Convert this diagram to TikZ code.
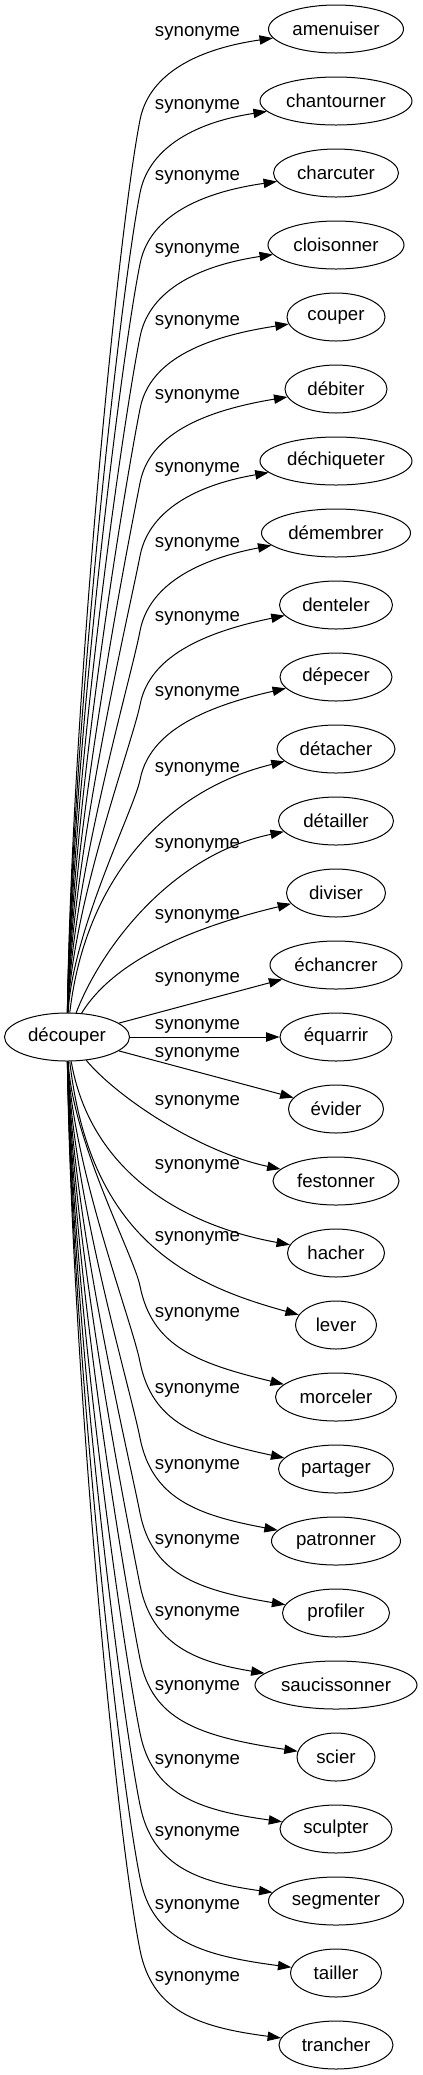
\documentclass[tikz,border=0pt]{standalone}
\usepackage{fontspec}
\setmainfont{Liberation Sans}
\usetikzlibrary{arrows.meta,shapes.geometric}

\begin{document}
\begin{tikzpicture}[x=0.75pt,y=-0.75pt,
	word/.style={draw,ellipse,inner sep=0pt,minimum height=36pt,line width=0.75pt,font=\fontsize{14}{17}\selectfont},
	rel/.style={font=\fontsize{14}{17}\selectfont},
	syn/.style={-{Triangle[length=10pt,width=7pt]},line width=0.75pt}]
	\useasboundingbox (0,0) rectangle (422,2075);
	%source
		\node[word,minimum width=93.75pt] (decouper) at (67,1037) {découper};
	%targets
		\node[word,minimum width=101.25pt] (amenuiser) at (336,29) {amenuiser};
		\node[word,minimum width=114pt] (chantourner) at (336,101) {chantourner};
		\node[word,minimum width=93.75pt] (charcuter) at (336,173) {charcuter};
		\node[word,minimum width=102pt] (cloisonner) at (336,245) {cloisonner};
		\node[word,minimum width=73.5pt] (couper) at (336,317) {couper};
		\node[word,minimum width=76.5pt] (debiter) at (336,389) {débiter};
		\node[word,minimum width=114pt] (dechiqueter) at (336,461) {déchiqueter};
		\node[word,minimum width=111.75pt] (demembrer) at (336,533) {démembrer};
		\node[word,minimum width=84.75pt] (denteler) at (336,605) {denteler};
		\node[word,minimum width=84pt] (depecer) at (336,677) {dépecer};
		\node[word,minimum width=88.5pt] (detacher) at (336,749) {détacher};
		\node[word,minimum width=86.25pt] (detailler) at (336,821) {détailler};
		\node[word,minimum width=74.25pt] (diviser) at (336,893) {diviser};
		\node[word,minimum width=99pt] (echancrer) at (336,965) {échancrer};
		\node[word,minimum width=84pt] (equarrir) at (336,1037) {équarrir};
		\node[word,minimum width=71.25pt] (evider) at (336,1109) {évider};
		\node[word,minimum width=94.5pt] (festonner) at (336,1181) {festonner};
		\node[word,minimum width=72.75pt] (hacher) at (336,1253) {hacher};
		\node[word,minimum width=60.75pt] (lever) at (336,1325) {lever};
		\node[word,minimum width=90.75pt] (morceler) at (336,1397) {morceler};
		\node[word,minimum width=86.25pt] (partager) at (336,1469) {partager};
		\node[word,minimum width=96.75pt] (patronner) at (336,1541) {patronner};
		\node[word,minimum width=80.25pt] (profiler) at (336,1613) {profiler};
		\node[word,minimum width=121.5pt] (saucissonner) at (336,1685) {saucissonner};
		\node[word,minimum width=58.5pt] (scier) at (336,1757) {scier};
		\node[word,minimum width=84pt] (sculpter) at (336,1829) {sculpter};
		\node[word,minimum width=101.25pt] (segmenter) at (336,1901) {segmenter};
		\node[word,minimum width=68.25pt] (tailler) at (336,1973) {tailler};
		\node[word,minimum width=85.5pt] (trancher) at (336,2045) {trancher};
	%edge labels
		\node[rel] (l-amenuiser) at (197.5,33) {synonyme};
		\node[rel] (l-chantourner) at (197.5,106) {synonyme};
		\node[rel] (l-charcuter) at (197.5,177) {synonyme};
		\node[rel] (l-cloisonner) at (197.5,250) {synonyme};
		\node[rel] (l-couper) at (197.5,322) {synonyme};
		\node[rel] (l-debiter) at (197.5,396) {synonyme};
		\node[rel] (l-dechiqueter) at (197.5,469) {synonyme};
		\node[rel] (l-demembrer) at (197.5,544) {synonyme};
		\node[rel] (l-denteler) at (197.5,618) {synonyme};
		\node[rel] (l-depecer) at (197.5,693) {synonyme};
		\node[rel] (l-detacher) at (197.5,769) {synonyme};
		\node[rel] (l-detailler) at (197.5,845) {synonyme};
		\node[rel] (l-diviser) at (197.5,916) {synonyme};
		\node[rel] (l-echancrer) at (197.5,979) {synonyme};
		\node[rel] (l-equarrir) at (197.5,1026) {synonyme};
		\node[rel] (l-evider) at (197.5,1054) {synonyme};
		\node[rel] (l-festonner) at (197.5,1102) {synonyme};
		\node[rel] (l-hacher) at (197.5,1166) {synonyme};
		\node[rel] (l-lever) at (197.5,1238) {synonyme};
		\node[rel] (l-morceler) at (197.5,1314) {synonyme};
		\node[rel] (l-partager) at (197.5,1390) {synonyme};
		\node[rel] (l-patronner) at (197.5,1466) {synonyme};
		\node[rel] (l-profiler) at (197.5,1541) {synonyme};
		\node[rel] (l-saucissonner) at (197.5,1613) {synonyme};
		\node[rel] (l-scier) at (197.5,1687) {synonyme};
		\node[rel] (l-sculpter) at (197.5,1761) {synonyme};
		\node[rel] (l-segmenter) at (197.5,1833) {synonyme};
		\node[rel] (l-tailler) at (197.5,1906) {synonyme};
		\node[rel] (l-trancher) at (197.5,1978) {synonyme};
	%edges going up
		\draw[syn] (decouper) .. controls (72,700) and (118,232) .. (140,120) .. controls (148,78) and (190,50) .. (amenuiser);
		\draw[syn] (decouper) .. controls (72,726) and (120,296) .. (140,193) .. controls (148,151) and (190,123) .. (chantourner);
		\draw[syn] (decouper) .. controls (72,751) and (121,358) .. (140,264) .. controls (148,222) and (190,194) .. (charcuter);
		\draw[syn] (decouper) .. controls (72,776) and (123,422) .. (140,337) .. controls (148,295) and (190,267) .. (cloisonner);
		\draw[syn] (decouper) .. controls (72,802) and (125,485) .. (140,409) .. controls (148,367) and (190,339) .. (couper);
		\draw[syn] (decouper) .. controls (72,828) and (127,549) .. (140,483) .. controls (148,441) and (190,413) .. (debiter);
		\draw[syn] (decouper) .. controls (72,853) and (129,613) .. (140,556) .. controls (148,514) and (190,486) .. (dechiqueter);
		\draw[syn] (decouper) .. controls (72,879) and (131,679) .. (140,631) .. controls (148,589) and (190,561) .. (demembrer);
		\draw[syn] (decouper) .. controls (72,905) and (132,744) .. (140,705) .. controls (148,663) and (190,635) .. (denteler);
		\draw[syn] (decouper) .. controls (72,932) and (134,809) .. (140,780) .. controls (148,738) and (190,710) .. (depecer);
		\draw[syn] (decouper) .. controls (85,880) and (165,790) .. (detacher);
		\draw[syn] (decouper) .. controls (100,950) and (170,855) .. (detailler);
		\draw[syn] (decouper) .. controls (105,975) and (160,935) .. (diviser);
	%straight edges
		\draw[syn] (decouper) -- (echancrer);
		\draw[syn] (decouper) -- (equarrir);
		\draw[syn] (decouper) -- (evider);
	%edges going down
		\draw[syn] (decouper) .. controls (115,1095) and (196,1151) .. (festonner);
		\draw[syn] (decouper) .. controls (90,1170) and (180,1225) .. (hacher);
		\draw[syn] (decouper) .. controls (90,1240) and (190,1285) .. (lever);
		\draw[syn] (decouper) .. controls (72,1140) and (134,1256) .. (140,1286) .. controls (152,1346) and (196,1363) .. (morceler);
		\draw[syn] (decouper) .. controls (72,1166) and (132,1321) .. (140,1362) .. controls (152,1422) and (196,1439) .. (partager);
		\draw[syn] (decouper) .. controls (72,1193) and (130,1387) .. (140,1438) .. controls (152,1498) and (196,1515) .. (patronner);
		\draw[syn] (decouper) .. controls (72,1219) and (128,1452) .. (140,1513) .. controls (152,1573) and (196,1590) .. (profiler);
		\draw[syn] (decouper) .. controls (72,1244) and (126,1514) .. (140,1585) .. controls (152,1645) and (196,1662) .. (saucissonner);
		\draw[syn] (decouper) .. controls (72,1270) and (124,1578) .. (140,1659) .. controls (152,1719) and (196,1736) .. (scier);
		\draw[syn] (decouper) .. controls (72,1296) and (122,1642) .. (140,1733) .. controls (152,1793) and (196,1810) .. (sculpter);
		\draw[syn] (decouper) .. controls (72,1321) and (120,1705) .. (140,1805) .. controls (152,1865) and (196,1882) .. (segmenter);
		\draw[syn] (decouper) .. controls (72,1347) and (118,1768) .. (140,1878) .. controls (152,1938) and (196,1955) .. (tailler);
		\draw[syn] (decouper) .. controls (72,1372) and (116,1830) .. (140,1950) .. controls (152,2010) and (196,2027) .. (trancher);
\end{tikzpicture}
\end{document}
